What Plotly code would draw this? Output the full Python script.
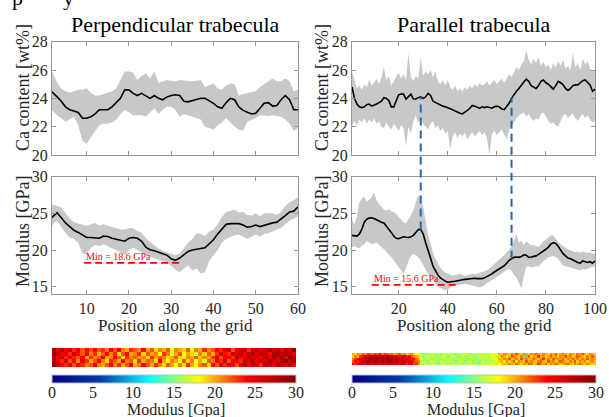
import plotly.graph_objects as go

W, H = 609, 417
FONT = "Liberation Serif"

# ---------------- data ----------------
pos_L = list(range(1, 61))
pos_R = list(range(1, 101))

ca_mean_L = [24.6, 24.4, 24.1, 23.8, 23.4, 23.2, 23.1, 23.0, 22.6, 22.6,
             22.7, 22.9, 23.2, 23.2, 23.2, 23.4, 23.7, 24.0, 24.6, 24.6,
             24.35, 24.2, 24.35, 24.15, 24.0, 24.2, 24.0, 23.9, 24.1, 24.2,
             24.25, 24.2, 23.8, 23.75, 23.85, 23.95, 24.0, 24.0, 23.85, 23.65,
             23.4, 23.3, 23.7, 24.0, 23.9, 23.4, 23.15, 23.0, 22.9, 22.95,
             23.3, 23.65, 23.7, 23.45, 23.5, 23.9, 24.2, 23.9, 23.2, 23.2]
ca_up_L = [26.1, 25.8, 25.1, 24.7, 24.5, 24.4, 24.5, 24.6, 24.6, 24.7,
           24.4, 24.2, 24.2, 24.3, 24.35, 24.5, 24.7, 25.3, 25.9, 25.9,
           25.8, 25.3, 25.6, 25.75, 25.4, 25.9, 25.1, 25.2, 25.3, 25.25,
           25.2, 25.3, 25.25, 25.25, 25.2, 25.25, 25.3, 24.8, 24.9, 25.05,
           24.7, 24.6, 24.9, 25.05, 25.0, 24.2, 24.3, 24.35, 24.4, 24.5,
           24.8, 25.0, 25.2, 25.4, 25.2, 25.2, 25.4, 25.2, 24.5, 24.6]
ca_lo_L = [23.2, 23.1, 22.8, 22.6, 22.35, 22.5, 22.7, 22.1, 21.0, 20.8,
           21.2, 21.7, 22.1, 22.2, 22.2, 22.3, 22.5, 22.9, 23.2, 23.0,
           22.8, 22.8, 22.8, 22.7, 23.0, 23.3, 22.9, 23.2, 23.4, 23.4,
           23.2, 22.7, 22.9, 22.8, 22.7, 22.6, 22.5, 22.0, 21.9, 21.8,
           22.1, 22.3, 22.6, 22.3, 22.0, 21.8, 21.7, 22.35, 22.5, 22.6,
           22.8, 22.8, 22.75, 22.8, 22.75, 22.7, 22.5, 22.2, 21.7, 21.9]

mod_mean_L = [24.0, 24.6, 25.1, 24.4, 23.7, 23.2, 22.7, 22.4, 22.0, 21.7,
              21.7, 21.7, 21.6, 21.9, 21.85, 21.6, 21.45, 21.4, 21.2, 21.6,
              21.7, 21.6, 21.2, 20.4, 20.05, 19.9, 19.7, 19.5, 19.3, 18.8,
              18.6, 18.9, 19.4, 19.8, 20.0, 20.15, 20.2, 20.3, 20.8, 21.4,
              22.2, 22.9, 23.5, 23.6, 23.6, 23.6, 23.4, 23.1, 23.2, 23.4,
              23.2, 23.4, 23.6, 23.7, 23.8, 24.2, 24.7, 25.2, 25.3, 25.9]
mod_up_L = [26.2, 26.2, 26.0, 25.8, 25.0, 24.3, 23.8, 23.6, 23.4, 23.3,
            23.5, 23.7, 23.3, 23.5, 23.3, 23.1, 23.0, 22.8, 22.8, 23.0,
            23.0, 22.6, 22.4, 21.6, 21.1, 20.6, 20.2, 19.9, 19.7, 19.4,
            19.3, 19.5, 20.2, 21.0, 21.5, 22.3, 22.2, 21.9, 22.5, 22.8,
            23.5, 24.5, 25.2, 25.4, 25.5, 25.1, 25.2, 24.8, 24.7, 25.0,
            24.6, 25.0, 25.0, 25.0, 24.8, 25.2, 26.0, 26.5, 26.8, 27.2]
mod_lo_L = [21.0, 23.5, 24.0, 23.2, 22.3, 21.7, 21.5, 21.0, 19.5, 19.5,
            20.3, 20.7, 20.5, 20.8, 20.5, 20.2, 20.0, 19.7, 19.3, 20.0,
            20.3, 20.0, 19.7, 19.3, 19.0, 18.8, 18.7, 18.5, 18.3, 17.8,
            17.3, 17.0, 17.5, 17.9, 17.2, 17.5, 16.8, 17.0, 18.5, 19.3,
            20.0, 21.0, 21.5, 21.8, 22.0, 22.1, 21.8, 21.5, 21.8, 22.1,
            21.8, 22.2, 22.3, 22.5, 22.8, 23.0, 23.5, 24.0, 24.3, 24.6]

ca_mean_R = [24.8, 24.0, 23.6, 23.4, 23.35, 23.4, 23.55, 23.6, 23.45, 23.5,
             23.6, 23.7, 23.8, 24.05, 24.0, 23.85, 23.4, 23.4, 23.9, 24.25,
             24.3, 24.3, 23.95, 24.1, 24.3, 23.95, 23.95, 24.05, 24.1, 24.0,
             24.1, 24.35, 24.2, 23.8, 23.7, 23.6, 23.5, 23.45, 23.4, 23.35,
             23.3, 23.2, 23.1, 23.0, 22.95, 22.9, 23.0, 23.15, 23.3, 23.5,
             23.45, 23.35, 23.3, 23.4, 23.35, 23.4, 23.35, 23.3, 23.4, 23.45,
             23.4, 23.25, 23.2, 23.4, 23.65, 24.0, 24.3, 24.5, 24.7, 24.95,
             25.15, 25.35, 25.2, 24.9, 24.8, 24.7, 24.9, 25.2, 25.3, 25.1,
             25.0, 24.8, 24.65, 24.9, 25.2, 25.1, 24.95, 24.7, 24.55, 24.7,
             24.9, 24.95, 24.95, 25.1, 25.25, 25.3, 25.15, 24.95, 24.5, 24.65]
ca_up_R = [25.9, 25.2, 24.7, 24.9, 24.6, 25.0, 24.8, 25.3, 24.9, 25.1,
           25.4, 25.0, 25.5, 26.2, 25.3, 25.6, 24.9, 25.2, 25.5, 25.8,
           25.4, 25.7, 25.3, 27.2, 25.5, 25.2, 25.6, 25.4, 26.9, 25.6,
           25.9, 25.7, 26.0, 25.5, 25.9, 25.2, 25.0, 25.3, 24.9, 25.3,
           24.8, 24.6, 24.9, 24.5, 24.7, 24.5, 24.8, 24.6, 24.9, 24.7,
           25.0, 24.8, 25.1, 24.9, 25.0, 25.2, 24.9, 25.1, 25.3, 25.0,
           25.2, 25.4, 25.1, 25.4, 25.7, 25.5, 25.9, 26.2, 26.0, 26.4,
           26.6, 27.4, 26.7, 26.4, 26.8, 26.5, 26.9, 26.3, 26.6, 26.2,
           26.4, 26.0, 26.5, 26.2, 26.6, 26.3, 26.7, 26.1, 26.3, 26.0,
           27.2, 26.2, 26.5, 26.0, 26.8, 26.4, 26.6, 26.1, 25.9, 26.0]
ca_lo_R = [22.0, 22.4, 22.1, 22.5, 22.3, 22.6, 22.2, 22.5, 22.3, 22.6,
           22.2, 22.4, 22.0, 21.9, 22.3, 22.0, 21.8, 22.2, 22.0, 21.7,
           22.1, 21.9, 20.6, 22.0, 21.5, 22.4, 22.8, 22.3, 22.6, 22.2,
           22.0, 21.8, 22.2, 22.4, 21.9, 22.1, 21.7, 21.9, 21.5, 21.7,
           20.4, 21.3, 21.6, 21.2, 21.5, 21.3, 21.6, 21.1, 21.4, 21.6,
           21.3, 21.5, 21.7, 21.4, 21.6, 21.2, 20.0, 21.5, 21.7, 21.4,
           21.6, 21.8, 21.5, 21.1, 21.8, 22.0, 22.3, 22.6, 22.8, 22.9,
           23.0, 22.7, 22.9, 22.6, 22.4, 22.6, 22.5, 22.9, 23.0, 22.7,
           22.4, 22.2, 22.3, 22.1, 22.0, 22.4, 22.8, 22.9, 22.6, 22.8,
           22.9, 22.6, 22.4, 22.7, 22.9, 22.6, 22.8, 22.5, 22.3, 22.4]

mod_mean_R = [22.0, 21.9, 21.9, 22.2, 22.8, 23.8, 24.2, 24.35, 24.4, 24.3,
              24.1, 23.9, 23.8, 23.7, 23.3, 22.9, 22.4, 21.9, 21.6, 21.55,
              21.65, 21.8, 21.75, 21.7, 21.8, 22.0, 22.4, 22.8, 22.8, 22.2,
              21.0, 19.8, 18.9, 17.8, 17.1, 16.6, 16.2, 15.95, 15.75, 15.6,
              15.6, 15.7, 15.75, 15.85, 15.9, 15.95, 16.0, 16.05, 16.1, 16.2,
              16.15, 16.1, 16.05, 16.1, 16.2, 16.35, 16.5, 16.75, 17.0, 17.2,
              17.35, 17.6, 17.85, 18.2, 18.6, 18.8, 19.0, 19.05, 19.0, 19.1,
              19.35, 19.3, 19.0, 19.05, 19.1, 19.2, 19.4, 19.6, 19.9, 20.1,
              20.4, 20.8, 21.0, 20.9, 20.5, 20.0, 19.5, 19.2, 18.9, 18.8,
              18.6, 18.45, 18.3, 18.2, 18.5, 18.4, 18.3, 18.4, 18.2, 18.5]
mod_up_R = [24.1, 23.5, 24.5, 26.5, 27.0, 27.3, 26.6, 26.9, 27.2, 27.9,
            26.8, 26.3, 25.9, 25.5, 25.4, 25.6, 25.3, 25.2, 24.9, 24.5,
            24.2, 23.8, 23.6, 24.2, 25.0, 25.4, 26.5, 27.5, 26.8, 25.9,
            24.0, 22.0, 21.0, 19.6, 18.8, 18.1, 17.6, 17.2, 16.9, 16.8,
            16.7, 16.5, 16.6, 16.7, 16.8, 16.6, 16.5, 16.6, 16.7, 16.8,
            16.7, 16.8, 16.8, 16.9, 17.1, 17.2, 17.5, 17.8, 18.1, 18.4,
            18.6, 18.9, 19.3, 19.7, 20.0, 20.5, 21.3, 22.2, 21.0, 21.3,
            20.7, 21.2, 20.9, 20.6, 20.7, 20.5, 20.4, 20.8, 21.2, 21.4,
            21.7, 22.0, 22.0, 21.5, 21.1, 20.8, 20.5, 20.3, 20.1, 20.0,
            19.9, 19.7, 19.8, 19.6, 19.8, 19.7, 19.6, 19.7, 19.5, 19.6]
mod_lo_R = [20.4, 20.5, 20.3, 20.2, 20.6, 20.8, 21.2, 21.0, 20.8, 20.9,
            21.0, 20.7, 20.4, 20.1, 19.7, 19.4, 19.0, 18.6, 18.2, 17.7,
            17.2, 16.8, 17.5, 18.5, 19.2, 19.5, 19.3, 19.0, 18.6, 18.0,
            17.3, 16.8, 16.3, 15.9, 15.5, 15.0, 14.9, 14.7, 14.5, 14.6,
            14.8, 15.1, 15.2, 15.2, 15.3, 15.3, 15.4, 15.4, 15.3, 15.2,
            15.1, 15.0, 14.9, 15.0, 15.2, 15.5, 15.8, 16.0, 16.2, 16.4,
            16.6, 16.8, 17.0, 17.3, 17.4, 17.2, 16.6, 16.3, 15.5, 14.7,
            16.5, 17.7, 17.8, 17.6, 17.7, 17.8, 17.7, 18.1, 18.5, 18.7,
            19.0, 19.1, 19.2, 19.0, 18.8, 18.3, 17.9, 17.7, 17.6, 17.6,
            17.5, 17.4, 17.3, 17.2, 17.4, 17.3, 17.5, 17.6, 17.7, 17.8]

min_L, min_R = 18.6, 15.6
min_span_L = [9.4, 32]
min_span_R = [9, 43.5]
boundaries_R = [29, 66]

heat_L = [
    [29, 26, 24, 23, 25, 22, 24, 23, 21, 22, 25, 21, 20, 22, 24, 21, 23, 20, 22, 25,
     20, 21, 24, 22, 20, 23, 21, 19, 22, 20, 18, 21, 19, 23, 20, 18, 21, 22, 19, 24,
     22, 25, 23, 26, 24, 22, 25, 27, 24, 26, 25, 23, 27, 26, 24, 28, 26, 25, 27, 24],
    [28, 25, 23, 26, 22, 24, 21, 25, 23, 20, 22, 24, 21, 19, 23, 22, 20, 24, 21, 22,
     19, 23, 20, 22, 21, 19, 24, 20, 18, 21, 20, 17, 22, 19, 21, 18, 20, 17, 22, 21,
     24, 23, 26, 22, 25, 24, 23, 26, 25, 27, 24, 26, 25, 28, 26, 25, 27, 29, 26, 28],
    [27, 24, 26, 23, 25, 23, 22, 24, 20, 23, 21, 22, 25, 20, 21, 24, 22, 19, 23, 21,
     22, 20, 21, 19, 23, 20, 22, 21, 19, 20, 22, 19, 18, 21, 20, 22, 19, 21, 20, 23,
     25, 22, 24, 25, 23, 27, 24, 25, 28, 25, 26, 24, 27, 25, 28, 26, 28, 25, 29, 27],
    [29, 27, 24, 25, 23, 26, 24, 22, 25, 21, 23, 20, 22, 24, 21, 23, 19, 22, 24, 20,
     21, 23, 19, 22, 20, 21, 18, 23, 21, 17, 20, 22, 18, 20, 19, 17, 21, 19, 22, 20,
     23, 26, 24, 23, 26, 25, 27, 24, 26, 28, 25, 27, 26, 24, 27, 29, 26, 28, 27, 25],
    [28, 25, 27, 24, 26, 23, 25, 22, 24, 22, 24, 22, 23, 21, 25, 22, 24, 21, 20, 23,
     22, 21, 24, 20, 22, 19, 21, 20, 22, 18, 21, 20, 19, 22, 18, 21, 20, 23, 21, 22,
     24, 23, 25, 26, 22, 25, 26, 27, 23, 26, 27, 25, 26, 28, 26, 27, 25, 28, 26, 29],
]
heat_R = [
    [24, 23, 25, 26, 24, 25, 27, 26, 25, 27, 26, 24, 27, 25, 26, 28, 26, 25, 27, 24,
     26, 25, 23, 25, 24, 22, 23, 21, 17, 16, 17, 15, 16, 17, 16, 15, 16, 17, 16, 16,
     15, 17, 16, 17, 16, 15, 16, 17, 16, 16, 17, 15, 16, 17, 16, 17, 16, 18, 17, 16,
     18, 19, 20, 19, 21, 20, 19, 22, 20, 19, 21, 20, 22, 21, 19, 20, 23, 21, 20, 22,
     19, 21, 20, 22, 21, 19, 20, 21, 22, 20, 19, 21, 20, 22, 20, 19, 21, 20, 19, 20],
    [22, 24, 23, 25, 27, 26, 28, 27, 26, 28, 27, 25, 28, 26, 27, 29, 27, 26, 28, 25,
     27, 26, 24, 26, 25, 23, 22, 21, 16, 17, 15, 16, 17, 16, 16, 15, 17, 16, 15, 17,
     16, 16, 15, 16, 17, 16, 15, 16, 17, 15, 16, 16, 15, 17, 16, 16, 17, 16, 17, 18,
     19, 20, 18, 21, 19, 20, 22, 19, 21, 20, 19, 22, 20, 21, 20, 19, 21, 22, 20, 19,
     22, 20, 21, 19, 20, 22, 21, 20, 19, 21, 20, 22, 19, 21, 20, 21, 19, 20, 21, 19],
    [21, 23, 24, 26, 25, 28, 27, 29, 28, 27, 29, 26, 28, 27, 29, 27, 28, 26, 27, 26,
     28, 25, 26, 24, 23, 24, 21, 20, 17, 16, 16, 17, 15, 16, 17, 16, 15, 16, 17, 16,
     17, 15, 16, 16, 17, 16, 16, 15, 16, 17, 16, 15, 17, 16, 17, 16, 16, 17, 18, 17,
     20, 19, 21, 20, 22, 19, 20, 21, 19, 22, 20, 21, 19, 20, 22, 20, 19, 21, 23, 20,
     21, 19, 22, 20, 21, 20, 22, 19, 21, 20, 22, 20, 21, 19, 21, 20, 22, 20, 21, 20],
    [19, 21, 20, 23, 24, 26, 25, 27, 26, 28, 27, 26, 27, 25, 28, 26, 27, 25, 26, 24,
     25, 26, 23, 24, 22, 21, 20, 19, 16, 15, 17, 16, 16, 17, 15, 16, 16, 17, 16, 15,
     16, 17, 16, 15, 16, 17, 16, 16, 17, 16, 15, 16, 16, 17, 16, 17, 16, 18, 17, 17,
     19, 21, 20, 19, 20, 22, 21, 20, 19, 21, 12, 20, 22, 19, 21, 20, 23, 20, 21, 19,
     20, 22, 20, 21, 19, 21, 20, 22, 20, 21, 19, 20, 22, 21, 20, 19, 21, 20, 22, 20],
    [20, 19, 21, 20, 22, 21, 23, 22, 21, 23, 22, 24, 21, 23, 22, 21, 22, 20, 21, 22,
     20, 21, 19, 20, 21, 19, 18, 17, 16, 16, 15, 16, 17, 16, 16, 17, 15, 16, 16, 17,
     16, 16, 15, 17, 16, 16, 17, 16, 15, 16, 17, 16, 16, 17, 16, 16, 17, 17, 18, 17,
     20, 19, 21, 20, 19, 21, 20, 22, 20, 19, 21, 20, 19, 21, 20, 22, 20, 19, 21, 20,
     19, 21, 20, 22, 19, 20, 21, 20, 19, 21, 20, 19, 21, 20, 22, 20, 19, 21, 20, 19],
]

cbar_range = [0, 30]
cbar_ticks = [0, 5, 10, 15, 20, 25, 30]

# ---------------- layout geometry (pixels) ----------------
def px_x(a, b):
    return [a / W, b / W]

def px_y(top, bottom):
    return [1 - bottom / H, 1 - top / H]

dom_xL, dom_xR = px_x(52, 298), px_x(352, 595)
dom_top, dom_bot = px_y(41.7, 155), px_y(176.7, 294)
rng_ca, rng_mod = [20, 28], [14, 30]
rng_xL, rng_xR = [1.8, 60], [1, 100]

BAND = "rgb(200,200,200)"
AX = "rgb(150,150,150)"
TXT = "#262626"
TICK_SIZE = 16

fig = go.Figure()

def add_panel(x, mean, up, lo, xa, ya):
    fig.add_trace(go.Scatter(x=x + x[::-1], y=up + lo[::-1], fill="toself",
                             fillcolor=BAND, line=dict(width=0), mode="lines",
                             hoverinfo="skip", showlegend=False, xaxis=xa, yaxis=ya))
    fig.add_trace(go.Scatter(x=x, y=mean, mode="lines",
                             line=dict(color="black", width=1.6),
                             showlegend=False, xaxis=xa, yaxis=ya))

add_panel(pos_L, ca_mean_L, ca_up_L, ca_lo_L, "x", "y")
add_panel(pos_R, ca_mean_R, ca_up_R, ca_lo_R, "x2", "y2")
add_panel(pos_L, mod_mean_L, mod_up_L, mod_lo_L, "x3", "y3")
add_panel(pos_R, mod_mean_R, mod_up_R, mod_lo_R, "x4", "y4")

def cbar(dom):
    return dict(orientation="h", x=(dom[0] + dom[1]) / 2, xanchor="center",
                y=1 - 375 / H, yanchor="top", lenmode="pixels", len=(dom[1] - dom[0]) * W,
                thickness=8, xpad=0, ypad=0, tickvals=cbar_ticks, ticks="",
                showticklabels=False,
                outlinewidth=1, outlinecolor="rgb(190,190,200)")

dom_hL, dom_hR = px_x(52, 296), px_x(352, 596)
fig.add_trace(go.Heatmap(z=heat_L, x=pos_L, y=list(range(1, 6)), colorscale="Jet",
                         zmin=cbar_range[0], zmax=cbar_range[1], colorbar=cbar(dom_hL),
                         xaxis="x5", yaxis="y5"))
fig.add_trace(go.Heatmap(z=heat_R, x=pos_R, y=list(range(1, 6)), colorscale="Jet",
                         zmin=cbar_range[0], zmax=cbar_range[1], colorbar=cbar(dom_hR),
                         xaxis="x6", yaxis="y6"))

def ax(dom, rng, anchor, tickvals, showlabels=True):
    return dict(domain=dom, range=rng, anchor=anchor, showline=True, linecolor=AX,
                linewidth=1, mirror="ticks", ticks="inside", ticklen=4, tickcolor=AX,
                showgrid=False, zeroline=False, tickvals=tickvals,
                showticklabels=showlabels,
                tickfont=dict(family=FONT, size=TICK_SIZE, color=TXT))

xt_L = [10, 20, 30, 40, 50, 60]
xt_R = [20, 40, 60, 80, 100]
fig.update_layout(
    xaxis=ax(dom_xL, rng_xL, "y", xt_L, False),
    yaxis=ax(dom_top, rng_ca, "x", [20, 22, 24, 26, 28]),
    xaxis2=ax(dom_xR, rng_xR, "y2", xt_R, False),
    yaxis2=ax(dom_top, rng_ca, "x2", [20, 22, 24, 26, 28]),
    xaxis3=ax(dom_xL, rng_xL, "y3", xt_L),
    yaxis3=ax(dom_bot, rng_mod, "x3", [15, 20, 25, 30]),
    xaxis4=ax(dom_xR, rng_xR, "y4", xt_R),
    yaxis4=ax(dom_bot, rng_mod, "x4", [15, 20, 25, 30]),
    xaxis5=dict(domain=dom_hL, anchor="y5", visible=False, range=[0.5, 60.5]),
    yaxis5=dict(domain=px_y(348, 367), anchor="x5", visible=False, range=[0.5, 5.5]),
    xaxis6=dict(domain=dom_hR, anchor="y6", visible=False, range=[0.5, 100.5]),
    yaxis6=dict(domain=px_y(353, 365), anchor="x6", visible=False, range=[0.5, 5.5]),
    width=W, height=H, margin=dict(l=0, r=0, t=0, b=0, autoexpand=False),
    paper_bgcolor="white", plot_bgcolor="white",
    font=dict(family=FONT, color=TXT),
)

def to_paper(v, rng, dom):
    return dom[0] + (v - rng[0]) / (rng[1] - rng[0]) * (dom[1] - dom[0])

# blue dashed boundary lines
for b in boundaries_R:
    i = pos_R.index(b)
    fig.add_shape(type="line", xref="x2", yref="paper", x0=b, x1=b,
                  y0=to_paper(mod_mean_R[i], rng_mod, dom_bot),
                  y1=to_paper(ca_mean_R[i], rng_ca, dom_top),
                  line=dict(color="rgb(40,100,170)", width=2, dash="8px,5px"))

# min markers
for xa, ya, mv, span in [("x3", "y3", min_L, min_span_L), ("x4", "y4", min_R, min_span_R)]:
    fig.add_shape(type="line", xref=xa, yref=ya, x0=span[0], x1=span[1],
                  y0=mv - 0.35, y1=mv - 0.35,
                  line=dict(color="red", width=1.8, dash="7px,4px"))
    fig.add_annotation(xref=xa, yref=ya, x=span[0], y=mv + 0.45, xanchor="left",
                       text=f"Min = {mv} GPa", showarrow=False,
                       font=dict(family=FONT, size=10, color="red"))

def ann(x, y, text, size, angle=0):
    fig.add_annotation(xref="paper", yref="paper", x=x / W, y=1 - y / H, text=text,
                       showarrow=False, textangle=angle, xanchor="center", yanchor="middle",
                       font=dict(family=FONT, size=size, color="black" if size >= 20 else TXT))

# colorbar tick labels placed on the colorbar scale
for dom in (dom_hL, dom_hR):
    for t in cbar_ticks:
        fig.add_annotation(xref="paper", yref="paper", x=to_paper(t, cbar_range, dom),
                           y=1 - 392 / H, text=str(t), showarrow=False,
                           xanchor="center", yanchor="middle",
                           font=dict(family=FONT, size=TICK_SIZE, color=TXT))

ann(175, 25, "Perpendicular trabecula", 22)
ann(474, 25, "Parallel trabecula", 22)
ann(23, 88, "Ca content [wt%]", 18, -90)
ann(322, 88, "Ca content [wt%]", 18, -90)
ann(23, 231, "Modulus [GPa]", 18, -90)
ann(322, 231, "Modulus [GPa]", 18, -90)
ann(175, 325, "Position along the grid", 17)
ann(474, 325, "Position along the grid", 17)
ann(176, 410, "Modulus [Gpa]", 16)
ann(476, 410, "Modulus [Gpa]", 16)
# cropped text at the very top edge
ann(17, -2.6, "p", 22)
ann(68, -2.6, "y", 22)

fig.write_html("out.html", config={"displayModeBar": False},
               post_script="document.body.style.margin='0';document.body.style.padding='0';"
                           "document.body.style.overflow='hidden';")
